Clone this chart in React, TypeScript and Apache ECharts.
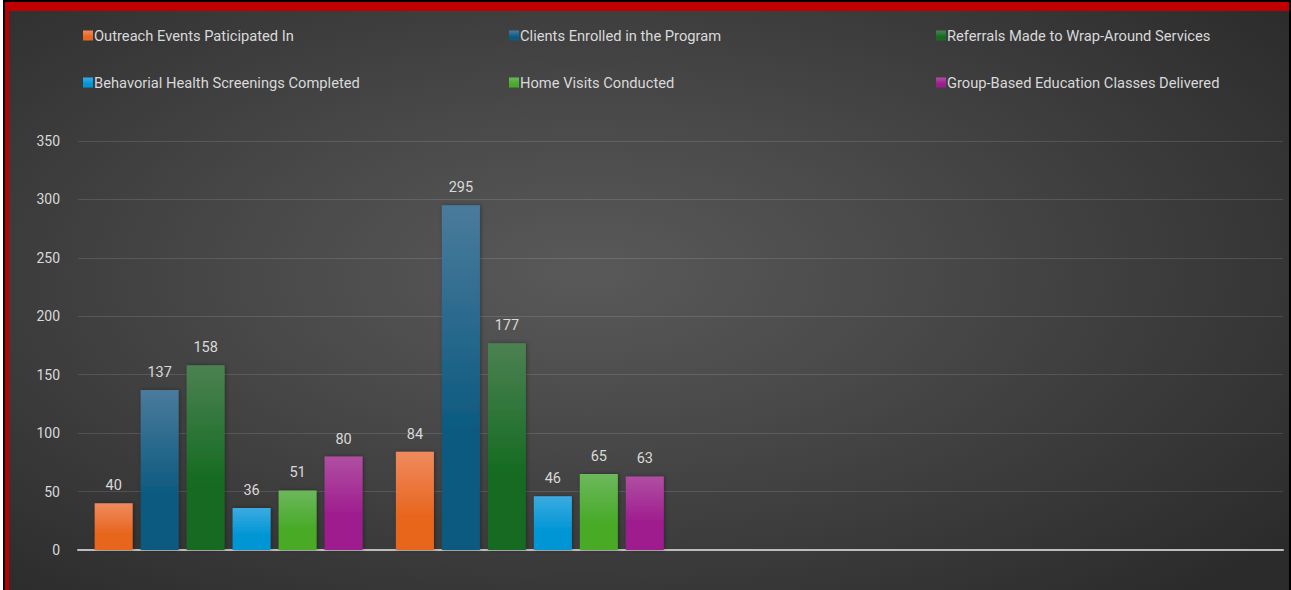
import React, { useEffect, useRef } from "react";
import * as echarts from "echarts";

const categories = ["Period 1", "Period 2", "Period 3", "Period 4"];
const seriesNames = [
  "Outreach Events Paticipated In",
  "Clients Enrolled in the Program",
  "Referrals Made to Wrap-Around Services",
  "Behavorial Health Screenings Completed",
  "Home Visits Conducted",
  "Group-Based Education Classes Delivered",
];
const outreach = [40, 84, null, null];
const enrolled = [137, 295, null, null];
const referrals = [158, 177, null, null];
const screenings = [36, 46, null, null];
const homeVisits = [51, 65, null, null];
const classes = [80, 63, null, null];
const yTicks = { min: 0, max: 350, interval: 50 };

const seriesData = [outreach, enrolled, referrals, screenings, homeVisits, classes];
const colorStops: [string, string][] = [
  ["#ef8a5e", "#e8661f"],
  ["#4a7b9c", "#0d5a80"],
  ["#4c8152", "#136b20"],
  ["#3cabe0", "#0096d6"],
  ["#6cb85c", "#48aa28"],
  ["#b04ea2", "#9e1b8e"],
];
const iconColors = ["#ee7535", "#1d6489", "#236f2e", "#14a0dc", "#55b03a", "#a52b96"];

export default function App() {
  const ref = useRef<HTMLDivElement>(null);
  useEffect(() => {
    if (!ref.current) return;
    const chart = echarts.init(ref.current, null, { renderer: "svg" });
    const font = "Roboto, 'Noto Sans', sans-serif";
    const legendCols = [0, 1, 2].map((c) => ({
      show: true,
      orient: "vertical" as const,
      left: [69, 495, 922][c],
      top: 12,
      itemGap: 32,
      itemWidth: 10,
      itemHeight: 10,
      icon: "rect",
      data: [seriesNames[c], seriesNames[c + 3]],
      textStyle: { color: "#d9d9d9", fontSize: 14.7, fontFamily: font, padding: [0, 0, 0, -4] },
    }));
    chart.setOption({
      animation: false,
      backgroundColor: "transparent",
      legend: legendCols,
      grid: { left: 69, right: 6, top: 130, bottom: 40, containLabel: false },
      xAxis: {
        type: "category",
        data: categories,
        axisLine: { show: true, lineStyle: { color: "#bdbdbd", width: 2 } },
        axisTick: { show: false },
        axisLabel: { show: false },
      },
      yAxis: {
        type: "value",
        min: yTicks.min,
        max: yTicks.max,
        interval: yTicks.interval,
        axisLine: { show: false },
        axisTick: { show: false },
        axisLabel: { color: "#d9d9d9", fontSize: 14, fontFamily: font, margin: 18 },
        splitLine: { lineStyle: { color: "rgba(255,255,255,0.12)", width: 1 } },
      },
      series: seriesNames.map((name, i) => ({
        name,
        type: "bar",
        data: seriesData[i],
        barWidth: 38,
        barGap: "21%",
        itemStyle: {
          color: {
            type: "linear",
            x: 0,
            y: 0,
            x2: 0,
            y2: 1,
            colorStops: [
              { offset: 0, color: colorStops[i][0] },
              { offset: 0.65, color: colorStops[i][1] },
              { offset: 1, color: colorStops[i][1] },
            ],
          },
          shadowColor: "rgba(0,0,0,0.35)",
          shadowBlur: 4,
          shadowOffsetX: 1,
        },
        color: iconColors[i],
        label: {
          show: true,
          position: "top",
          distance: 10,
          color: "#d9d9d9",
          fontSize: 14.5,
          fontFamily: font,
        },
      })),
    });
    return () => chart.dispose();
  }, []);
  return (
    <div style={{ position: "fixed", left: 0, top: 0, width: 1291, height: 590, background: "#fff" }}>
      <div style={{ position: "absolute", left: 3, top: 0, width: 1288, height: 590, background: "#000" }}>
        <div style={{ position: "absolute", left: 2, top: 2, width: 1284, height: 588, background: "#c00000" }}>
          <div
            ref={ref}
            style={{
              position: "absolute",
              left: 4,
              top: 9,
              width: 1280,
              height: 579,
              background:
                "radial-gradient(ellipse 70% 75% at 45% 45%, #595959 0%, #4a4a4a 35%, #2b2b2b 100%)",
            }}
          />
        </div>
      </div>
    </div>
  );
}
